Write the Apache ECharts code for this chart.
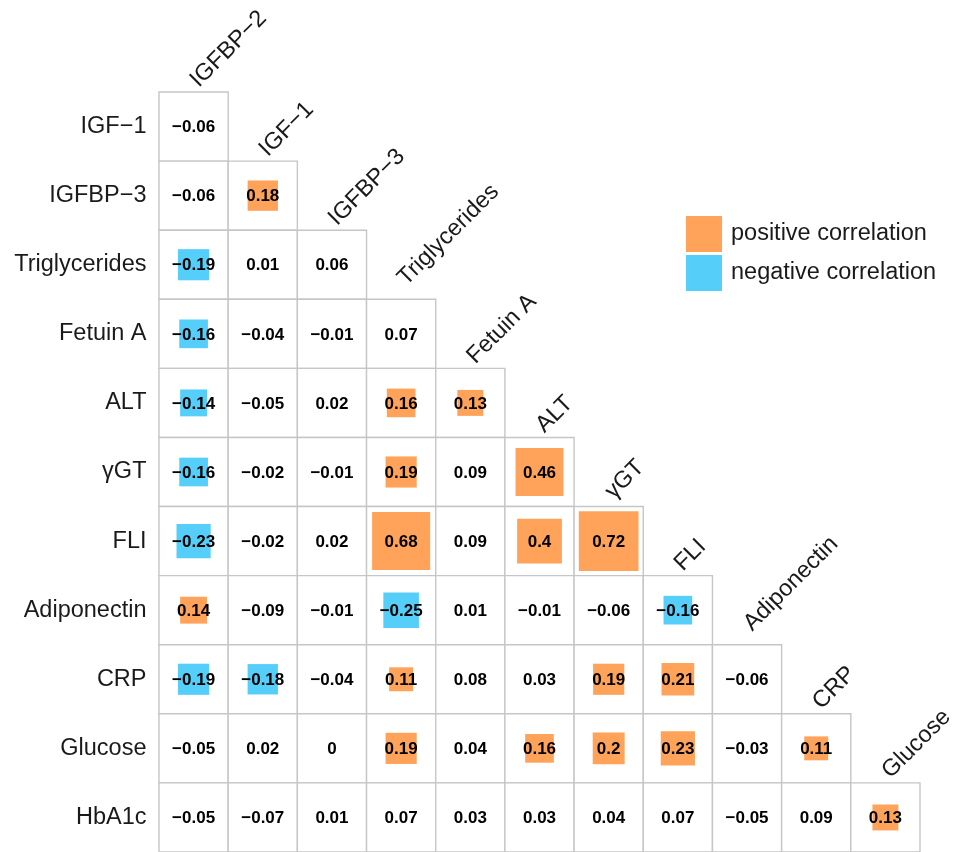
<!DOCTYPE html>
<html>
<head>
<meta charset="utf-8">
<script src="https://cdn.jsdelivr.net/npm/echarts@6/dist/echarts.min.js"></script>
<style>html,body{margin:0;padding:0;background:#fff}#c{width:953px;height:852px}</style>
</head>
<body>
<div id="c"></div>
<script>
const columns = ['IGFBP\u22122', 'IGF\u22121', 'IGFBP\u22123', 'Triglycerides', 'Fetuin A', 'ALT', '\u03b3GT', 'FLI', 'Adiponectin', 'CRP', 'Glucose'];
const rows = ['IGF\u22121', 'IGFBP\u22123', 'Triglycerides', 'Fetuin A', 'ALT', '\u03b3GT', 'FLI', 'Adiponectin', 'CRP', 'Glucose', 'HbA1c'];
const corr = [
  [-0.06],
  [-0.06, 0.18],
  [-0.19, 0.01, 0.06],
  [-0.16, -0.04, -0.01, 0.07],
  [-0.14, -0.05, 0.02, 0.16, 0.13],
  [-0.16, -0.02, -0.01, 0.19, 0.09, 0.46],
  [-0.23, -0.02, 0.02, 0.68, 0.09, 0.4, 0.72],
  [0.14, -0.09, -0.01, -0.25, 0.01, -0.01, -0.06, -0.16],
  [-0.19, -0.18, -0.04, 0.11, 0.08, 0.03, 0.19, 0.21, -0.06],
  [-0.05, 0.02, 0, 0.19, 0.04, 0.16, 0.2, 0.23, -0.03, 0.11],
  [-0.05, -0.07, 0.01, 0.07, 0.03, 0.03, 0.04, 0.07, -0.05, 0.09, 0.13]
];
const seriesNames = ['positive correlation', 'negative correlation'];
const squareThreshold = 0.1;

const FONT = "'Liberation Sans', Arial, Helvetica, sans-serif";
const POS = '#FFA35A';
const NEG = '#56CEFA';
const LABEL_SIZE = 23.5;

const cells = [];
const posCells = [];
const negCells = [];
corr.forEach((row, i) => {
  row.forEach((v, j) => {
    cells.push([j, i, v]);
    if (Math.abs(v) >= squareThreshold) {
      if (v > 0) posCells.push([j, i, v]); else negCells.push([j, i, v]);
    }
  });
});
const headerData = columns.map((name, j) => [j, j]);

function fmt(v) { return String(v).replace('-', '\u2212'); }
// labels with descenders sit a little higher (bottom-justified text)
function descentLift(label) {
  if (/[gjpqy]/.test(label)) return 9;
  if (/\u03b3/.test(label)) return 3;
  return 0;
}

function cellRender(params, api) {
  const c = api.coord([api.value(0), api.value(1)]);
  const s = api.size([1, 1]);
  return {
    type: 'rect',
    shape: { x: c[0] - s[0] / 2, y: c[1] - s[1] / 2, width: s[0], height: s[1] },
    style: { fill: '#fff', stroke: '#c6c6c6', lineWidth: 1.4 }
  };
}
function squareRender(color) {
  return function (params, api) {
    const c = api.coord([api.value(0), api.value(1)]);
    const s = api.size([1, 1]);
    const w = s[0] * Math.sqrt(Math.abs(api.value(2))) + 1;
    return {
      type: 'rect',
      shape: { x: c[0] - w / 2, y: c[1] - w / 2, width: w, height: w },
      style: { fill: color }
    };
  };
}
function textRender(params, api) {
  const c = api.coord([api.value(0), api.value(1)]);
  return {
    type: 'text',
    x: c[0], y: c[1] + 1,
    style: { text: fmt(api.value(2)), textAlign: 'center', textVerticalAlign: 'middle',
      font: 'bold 17px ' + FONT, fill: '#000' }
  };
}
function headerRender(params, api) {
  const c = api.coord([api.value(0), api.value(1)]);
  const s = api.size([1, 1]);
  const top = c[1] - s[1] / 2;
  const name = columns[params.dataIndex];
  return {
    type: 'text',
    x: c[0] + 9, y: top - descentLift(name),
    rotation: Math.PI / 4,
    style: { text: name, textAlign: 'left', textVerticalAlign: 'bottom',
      font: LABEL_SIZE + 'px ' + FONT, fill: '#1a1a1a' }
  };
}

const chart = echarts.init(document.getElementById('c'));
chart.setOption({
  animation: false,
  backgroundColor: '#fff',
  grid: { left: 159, top: 92, width: 761, height: 761 },
  xAxis: { type: 'category', data: columns, show: false },
  yAxis: {
    type: 'category', data: rows, inverse: true,
    axisLine: { show: false }, axisTick: { show: false }, splitLine: { show: false },
    axisLabel: { fontSize: LABEL_SIZE, fontFamily: FONT, color: '#1a1a1a', margin: 12.5 }
  },
  legend: {
    data: seriesNames, orient: 'vertical', left: 686, top: 216, padding: 0,
    icon: 'rect', itemWidth: 36, itemHeight: 36, itemGap: 3, selectedMode: false,
    textStyle: { fontSize: LABEL_SIZE, fontFamily: FONT, color: '#1a1a1a', padding: [0, 0, 0, 4] }
  },
  series: [
    { type: 'custom', name: 'cells', data: cells, renderItem: cellRender, z: 1, silent: true },
    { type: 'custom', name: seriesNames[0], data: posCells, renderItem: squareRender(POS), itemStyle: { color: POS }, z: 2, silent: true },
    { type: 'custom', name: seriesNames[1], data: negCells, renderItem: squareRender(NEG), itemStyle: { color: NEG }, z: 2, silent: true },
    { type: 'custom', name: 'labels', data: cells, renderItem: textRender, z: 3, silent: true },
    { type: 'custom', name: 'headers', data: headerData, renderItem: headerRender, z: 3, silent: true, clip: false }
  ]
});
</script>
</body>
</html>
